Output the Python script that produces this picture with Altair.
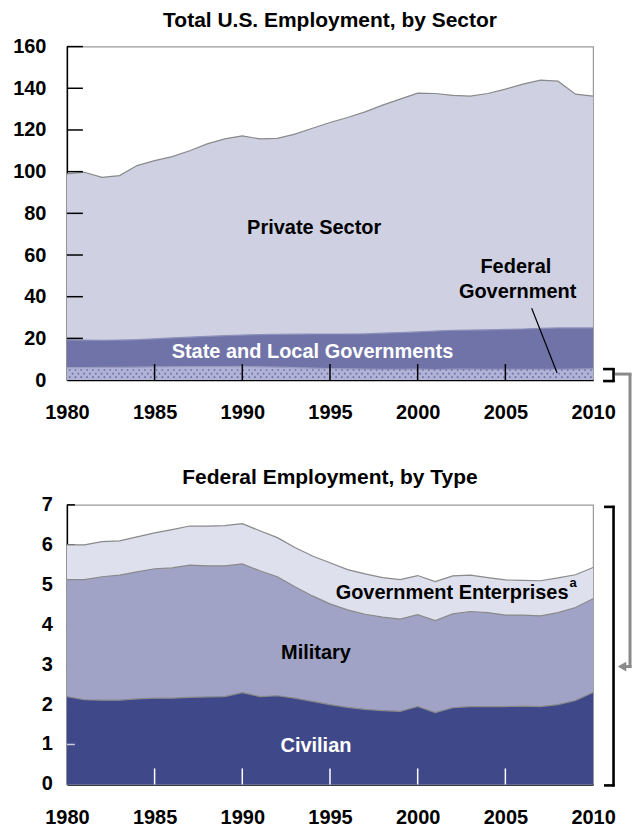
import altair as alt
import pandas as pd

FONT = "Liberation Sans"

# ---------------- data (millions of jobs) ----------------
years = list(range(1980, 2011))

total_employment = [98.9, 99.7, 97.3, 98.1, 102.9, 105.3, 107.2, 110.0, 113.3, 115.7,
                    117.2, 115.7, 116.0, 118.0, 120.8, 123.6, 126.0, 128.7, 131.9, 134.8,
                    137.7, 137.5, 136.6, 136.2, 137.5, 139.6, 142.0, 143.9, 143.4, 137.2,
                    136.2]

# top of the state & local band (federal + state/local)
state_local_top = [19.3, 19.2, 19.1, 19.2, 19.4, 19.8, 20.2, 20.6, 21.0, 21.3,
                   21.6, 21.8, 21.9, 22.0, 22.1, 22.1, 22.1, 22.2, 22.5, 22.8,
                   23.1, 23.5, 23.9, 24.0, 24.1, 24.3, 24.5, 24.8, 25.0, 25.0,
                   25.0]

# federal employment total (civilian + military + enterprises)
federal_total = [6.00, 6.00, 6.08, 6.10, 6.20, 6.30, 6.38, 6.47, 6.47, 6.48,
                 6.53, 6.35, 6.18, 5.93, 5.72, 5.55, 5.38, 5.27, 5.18, 5.13,
                 5.23, 5.08, 5.22, 5.24, 5.18, 5.12, 5.11, 5.10, 5.17, 5.25,
                 5.43]

# top of the military band (civilian + military)
military_top = [5.13, 5.13, 5.20, 5.24, 5.32, 5.40, 5.42, 5.49, 5.47, 5.47,
                5.52, 5.35, 5.20, 4.95, 4.72, 4.52, 4.37, 4.26, 4.19, 4.14,
                4.25, 4.10, 4.27, 4.33, 4.30, 4.24, 4.24, 4.22, 4.30, 4.43,
                4.65]

civilian = [2.20, 2.12, 2.11, 2.11, 2.14, 2.16, 2.16, 2.18, 2.19, 2.20,
            2.30, 2.20, 2.22, 2.16, 2.08, 2.00, 1.93, 1.88, 1.85, 1.83,
            1.95, 1.80, 1.92, 1.95, 1.95, 1.95, 1.96, 1.95, 2.00, 2.10,
            2.30]

x_tick_labels = [1980, 1985, 1990, 1995, 2000, 2005, 2010]
inner_x_ticks = [1985, 1990, 1995, 2000, 2005]
top_y_ticks = [0, 20, 40, 60, 80, 100, 120, 140, 160]
bottom_y_ticks = [0, 1, 2, 3, 4, 5, 6, 7]

top_labels = pd.DataFrame({
    "label": ["Private Sector", "Federal", "Government", "State and Local Governments"],
    "year": [1994.1, 2005.6, 2005.7, 1994.0],
    "value": [72.8, 54.1, 42.2, 13.4],
    "color": ["black", "black", "black", "white"],
})
bottom_labels = pd.DataFrame({
    "label": ["Military", "Civilian"],
    "year": [1994.2, 1994.2],
    "value": [3.3, 0.95],
    "color": ["black", "white"],
})

# ---------------- styles ----------------
W = 527
H_TOP = 334
H_BOT = 280
GRAY_LINE = "#8a8a8a"
CONN_X = 564

df_top = pd.DataFrame({"year": years, "total": total_employment,
                       "slg": state_local_top, "fed": federal_total})
df_bot = pd.DataFrame({"year": years, "total": federal_total,
                       "mil": military_top, "civ": civilian})
one = pd.DataFrame({"k": [0]})


def x_enc(field="year"):
    return alt.X(f"{field}:Q",
                 scale=alt.Scale(domain=[1980, 2010], nice=False, zero=False),
                 axis=alt.Axis(values=x_tick_labels, format="d", title=None, ticks=False,
                               grid=False, labelPadding=23, domainColor="black",
                               domainWidth=1.5, labelFontSize=20, labelFont=FONT,
                               labelFontWeight="bold", labelColor="black",
                               labelFlush=False, labelOverlap=False))


def y_enc(field, domain, values, pad, labels=True):
    return alt.Y(f"{field}:Q",
                 scale=alt.Scale(domain=domain, nice=False),
                 axis=alt.Axis(values=values, title=None, ticks=False, grid=False,
                               labels=labels,
                               labelPadding=pad, domainColor="black", domainWidth=1.5,
                               labelFontSize=20, labelFont=FONT, labelFontWeight="bold",
                               labelColor="black", labelOverlap=False))


def area(df, field, color, line_color, domain, values, pad, labels=True):
    return alt.Chart(df).mark_area(
        color=color, opacity=1,
        line=alt.OverlayMarkDef(color=line_color, strokeWidth=1.2),
    ).encode(x=x_enc(), y=y_enc(field, domain, values, pad, labels))


# ---------------- top chart ----------------
TD = [0, 160]
private = area(df_top, "total", "#cfd1e3", GRAY_LINE, TD, top_y_ticks, 21)
slg = area(df_top, "slg", "#6f73a8", "#8d90b8", TD, top_y_ticks, 21)
fed = area(df_top, "fed", "#b0b3d5", "#9a9cc0", TD, top_y_ticks, 21)

dot_rows = []
for i, v in enumerate([1.4, 3.1, 4.8]):
    dot_rows.append(
        alt.Chart(one).mark_rule(color="#6a6ea6", strokeWidth=1.6,
                                 strokeDash=[1.6, 4.2],
                                 strokeDashOffset=(2.9 if i % 2 else 0))
        .encode(y=alt.datum(v), x=alt.value(2), x2=alt.value(W - 1))
    )

top_yticks = alt.Chart(pd.DataFrame({"v": top_y_ticks[1:]})).mark_rule(
    color="black", strokeWidth=1.5
).encode(y=y_enc("v", TD, top_y_ticks, 21), x=alt.value(0), x2=alt.value(16))

top_xticks = alt.Chart(pd.DataFrame({"year": inner_x_ticks})).mark_rule(
    color="black", strokeWidth=1.5
).encode(x=x_enc(), y=alt.value(H_TOP - 16), y2=alt.value(H_TOP))

top_text = alt.Chart(top_labels).mark_text(
    font=FONT, fontSize=20, fontWeight="bold"
).encode(x="year:Q", y="value:Q", text="label:N", color=alt.Color("color:N", scale=None))

leader = alt.Chart(pd.DataFrame({"x1": [2006.5], "y1": [34.5], "x2": [2007.95], "y2": [3.35]})
                   ).mark_rule(color="black", strokeWidth=1.2).encode(
    x="x1:Q", y="y1:Q", x2="x2:Q", y2="y2:Q")


def hseg(x1, x2, y, color, width):
    return alt.Chart(one).mark_rule(color=color, strokeWidth=width).encode(
        x=alt.value(x1), x2=alt.value(x2), y=alt.value(y))


def vseg(x, y1, y2, color, width):
    return alt.Chart(one).mark_rule(color=color, strokeWidth=width).encode(
        x=alt.value(x), y=alt.value(y1), y2=alt.value(y2))


small_bracket = [
    hseg(537, 548.5, 323, "black", 2.6),
    vseg(547.5, 322, 336, "black", 2.6),
    hseg(537, 548.5, 335, "black", 2.6),
]
connector = [
    hseg(549, CONN_X + 1.5, 328, GRAY_LINE, 3),
    vseg(CONN_X, 328, 622.5, GRAY_LINE, 3),
    hseg(556, CONN_X + 1.5, 621, GRAY_LINE, 3),
    alt.Chart(one).mark_point(shape="triangle-left", filled=True, color=GRAY_LINE,
                              opacity=1, size=95).encode(x=alt.value(556), y=alt.value(621)),
]

top = alt.layer(private, slg, fed, *dot_rows, top_yticks, top_xticks, top_text, leader,
                *small_bracket, *connector).properties(
    width=W, height=H_TOP,
    title=alt.TitleParams("Total U.S. Employment, by Sector", font=FONT, fontSize=21,
                          fontWeight="bold", color="black", anchor="middle", offset=6),
)

# ---------------- bottom chart ----------------
BD = [0, 7]
bot_yticks = alt.Chart(pd.DataFrame({"v": bottom_y_ticks[1:]})).mark_rule(
    color="black", strokeWidth=1.5
).encode(y=y_enc("v", BD, bottom_y_ticks, 14, False), x=alt.value(0), x2=alt.value(8))

# y tick labels of the lower panel, drawn as text (one per tick value)
bot_ylabels = alt.Chart(pd.DataFrame({"v": bottom_y_ticks})).mark_text(
    font=FONT, fontSize=20, fontWeight="bold", align="right", baseline="middle",
    color="black"
).encode(y=y_enc("v", BD, bottom_y_ticks, 14, False), x=alt.value(-14),
         text=alt.Text("v:Q", format="d"))

ent = area(df_bot, "total", "#dfe0ee", GRAY_LINE, BD, bottom_y_ticks, 14, False)
mil = area(df_bot, "mil", "#a0a3c6", GRAY_LINE, BD, bottom_y_ticks, 14, False)
civ = area(df_bot, "civ", "#3f4889", GRAY_LINE, BD, bottom_y_ticks, 14, False)

bot_light_tick = alt.Chart(pd.DataFrame({"v": [1]})).mark_rule(
    color="#c8cadc", strokeWidth=1.5
).encode(y=y_enc("v", BD, bottom_y_ticks, 14, False), x=alt.value(0), x2=alt.value(8))

bot_xticks = alt.Chart(pd.DataFrame({"year": inner_x_ticks})).mark_rule(
    color="white", strokeWidth=1.5
).encode(x=x_enc(), y=alt.value(H_BOT - 16), y2=alt.value(H_BOT))

bot_text = alt.Chart(bottom_labels).mark_text(
    font=FONT, fontSize=20, fontWeight="bold"
).encode(x="year:Q", y="value:Q", text="label:N", color=alt.Color("color:N", scale=None))

ent_label = alt.Chart(pd.DataFrame({"label": ["Government Enterprises"], "year": [2008.6],
                                    "value": [4.8]})).mark_text(
    font=FONT, fontSize=20, fontWeight="bold", align="right", color="black"
).encode(x="year:Q", y="value:Q", text="label:N")
ent_sup = alt.Chart(pd.DataFrame({"label": ["a"], "year": [2008.6], "value": [5.05]})).mark_text(
    font=FONT, fontSize=13, fontWeight="bold", align="left", dx=1, color="black"
).encode(x="year:Q", y="value:Q", text="label:N")

big_bracket = [
    hseg(538, 548.5, 2, "black", 2.6),
    vseg(547.5, 1, 282, "black", 2.6),
    hseg(538, 548.5, 281, "black", 2.6),
]

bottom = alt.layer(bot_yticks, ent, mil, civ, bot_light_tick, bot_xticks, bot_ylabels,
                   bot_text, ent_label, ent_sup, *big_bracket).properties(
    width=W, height=H_BOT,
    title=alt.TitleParams("Federal Employment, by Type", font=FONT, fontSize=21,
                          fontWeight="bold", color="black", anchor="middle", offset=7),
)

chart = alt.vconcat(top, bottom, spacing=125, bounds="flush").properties(
    padding={"left": 4, "top": 0, "right": 0, "bottom": 0}
).configure_view(stroke="#9a9a9a", strokeWidth=1.2)

chart.save("out.html", embed_options={"renderer": "svg", "actions": False})
